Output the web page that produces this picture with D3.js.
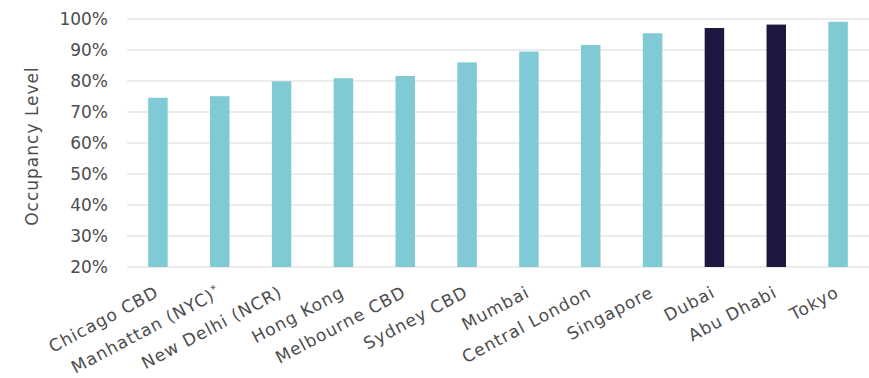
<!DOCTYPE html>
<html>
<head>
<meta charset="utf-8">
<script src="https://cdn.jsdelivr.net/npm/d3@7"></script>
<style>
  html, body { margin: 0; padding: 0; background: #ffffff; }
  svg { display: block; }
  text { font-family: "DejaVu Sans", sans-serif; fill: #4d4d4d; }
</style>
</head>
<body>
<svg id="chart" width="869" height="378"></svg>
<script>
// Office occupancy by market
const cities = ["Chicago CBD", "Manhattan (NYC)", "New Delhi (NCR)", "Hong Kong", "Melbourne CBD",
  "Sydney CBD", "Mumbai", "Central London", "Singapore", "Dubai", "Abu Dhabi", "Tokyo"];
const occupancy = [74.6, 75.1, 79.9, 80.9, 81.6, 86.0, 89.5, 91.6, 95.4, 97.1, 98.2, 99.1];
const highlighted = ["Dubai", "Abu Dhabi"];
const footnoted = ["Manhattan (NYC)"];
const yTicks = [20, 30, 40, 50, 60, 70, 80, 90, 100];

const svg = d3.select("#chart");
const margin = { top: 19, right: 0, bottom: 111, left: 127 };
const width = 869 - margin.left - margin.right;
const height = 378 - margin.top - margin.bottom;

const g = svg.append("g").attr("transform", `translate(${margin.left},${margin.top})`);

const x = d3.scaleBand().domain(cities).range([0, width]).paddingInner(0.685).paddingOuter(0.3425);
const y = d3.scaleLinear().domain([20, 100]).range([height, 0]);

// gridlines
g.append("g")
  .selectAll("line")
  .data(yTicks)
  .join("line")
  .attr("x1", 0).attr("x2", width)
  .attr("y1", d => y(d)).attr("y2", d => y(d))
  .attr("stroke", "#d9d9d9").attr("stroke-width", 1.2);

// y axis labels
const yAxis = g.append("g")
  .call(d3.axisLeft(y).tickValues(yTicks).tickFormat(d => d + "%").tickSize(0).tickPadding(19));
yAxis.select(".domain").remove();
yAxis.selectAll("text")
  .style("font-size", "17px")
  .style("font-family", "'DejaVu Sans', sans-serif")
  .attr("fill", "#4d4d4d");

// bars
g.append("g")
  .selectAll("rect")
  .data(cities.map((c, i) => ({ city: c, value: occupancy[i] })))
  .join("rect")
  .attr("x", d => x(d.city))
  .attr("width", x.bandwidth())
  .attr("y", d => y(d.value))
  .attr("height", d => y(20) - y(d.value))
  .attr("fill", d => highlighted.includes(d.city) ? "#1e1840" : "#80cad6");

// x labels, rotated
const xLabels = g.append("g")
  .selectAll("text")
  .data(cities)
  .join("text")
  .attr("transform", d => `translate(${x(d) + x.bandwidth() / 2 + 2},${height + 29}) rotate(-28)`)
  .attr("text-anchor", "end")
  .style("font-size", "17px")
  .style("letter-spacing", "1px")
  .text(d => d);
xLabels.filter(d => footnoted.includes(d))
  .append("tspan")
  .attr("dy", "-0.55em")
  .style("font-size", "11px")
  .text("*");

// y axis title
svg.append("text")
  .attr("transform", `translate(38,${margin.top + height / 2 + 3}) rotate(-90)`)
  .attr("text-anchor", "middle")
  .style("font-size", "17px")
  .style("letter-spacing", "1px")
  .text("Occupancy Level");
</script>
</body>
</html>
